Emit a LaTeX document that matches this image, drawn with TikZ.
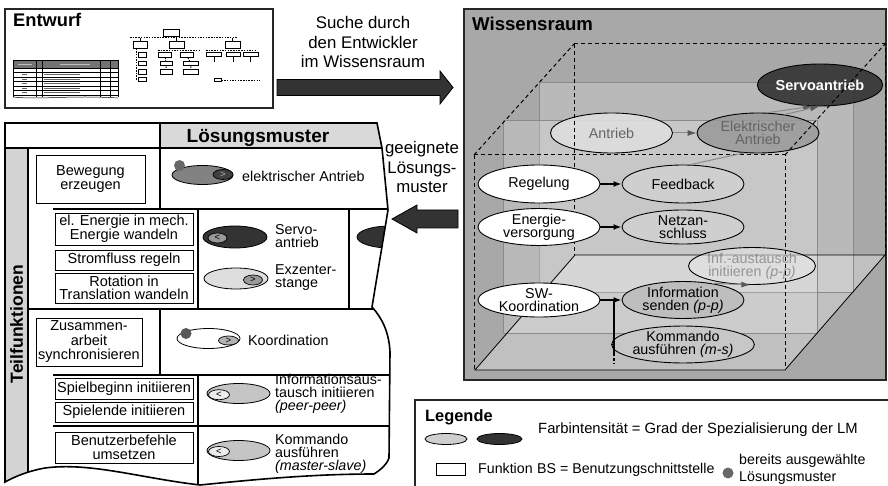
\documentclass[tikz,border=0pt]{standalone}
\usepackage{fontspec}
\setmainfont{Liberation Sans}
\usetikzlibrary{shapes.geometric,arrows.meta}

\definecolor{roomgray}{HTML}{A8A8A8}
\definecolor{floorgray}{HTML}{C0C0C0}
\definecolor{edgegray}{HTML}{8A8A8A}
\definecolor{darkfill}{HTML}{333333}
\definecolor{midfill}{HTML}{999999}
\definecolor{lightfill}{HTML}{DEDEDE}
\definecolor{softfill}{HTML}{CFCFCF}
\definecolor{headgray}{HTML}{D9D9D9}
\definecolor{stripgray}{HTML}{D3D3D3}
\definecolor{dotgray}{HTML}{686868}
\definecolor{textgray}{HTML}{585858}

\newcommand\fell{\fontsize{14.3}{12.8}\selectfont\lineskiplimit=-20pt}
\newcommand\ftab{\fontsize{14.5}{13.5}\selectfont\lineskiplimit=-20pt}
\newcommand\fsol{\fontsize{14.3}{13}\selectfont\lineskiplimit=-20pt}
\newcommand\fcap{\fontsize{16.8}{19.5}\selectfont}
\newcommand\fleg{\fontsize{14.2}{16.5}\selectfont\lineskiplimit=-20pt}
\newcommand\flegwide{\fontsize{14.8}{16.5}\selectfont}
\newcommand\fmini{\fontsize{9.5}{9.5}\selectfont}

% outline of the solution table with its torn right and bottom edges
\newcommand\tableoutline{(5,123) -- (377,123) -- (382,148) -- (388,210) -- (372,307)
  .. controls (382,318) and (389,332) .. (390,352) -- (389,458)
  .. controls (386,466) and (380,470) .. (374,474)
  .. controls (310,474) and (250,480) .. (200,485)
  .. controls (140,478) and (90,462) .. (45,468)
  .. controls (28,471) and (14,477) .. (5,482) -- cycle}

\tikzset{
  ell/.style={ellipse, draw=black, line width=0.9pt, minimum width=122pt,
    minimum height=38pt, inner sep=0pt, align=center, font=\fell},
  backell/.style={ell, minimum height=40pt},
  blackarrow/.style={line width=1.6pt, -{Latex[length=8pt,width=6pt]}},
  grayarrow/.style={draw=edgegray, line width=1pt, -{Latex[length=9pt,width=6pt,color=textgray]}},
  grayline/.style={draw=edgegray, line width=1pt},
  dashedge/.style={dash pattern=on 4pt off 3pt, line width=1pt},
  tline/.style={line width=1.6pt},
  funcbox/.style={draw, line width=0.8pt, fill=white, align=center, font=\ftab, inner sep=0pt},
  solell/.style={ellipse, draw, line width=0.8pt, inner sep=0pt, minimum width=64pt, minimum height=21pt},
  mini/.style={ellipse, draw, line width=0.7pt, inner sep=0pt, minimum width=19pt,
    minimum height=10pt, font=\fmini},
  soltext/.style={anchor=west, align=left, font=\fsol, inner sep=0pt},
  pickdot/.style={circle, fill=dotgray, inner sep=0pt, minimum size=11pt},
  mbox/.style={draw, line width=0.9pt, fill=white, inner sep=0pt, minimum width=#1, minimum height=4.5pt},
  mbox/.default=12pt,
  mdash/.style={dash pattern=on 1.5pt off 1.2pt, line width=1pt},
  panel/.style={line width=1.6pt, draw=black!85}
}

\begin{document}
\begin{tikzpicture}[x=1pt,y=-1pt]
\useasboundingbox (0,0) rectangle (888,486);
\clip (0,0) rectangle (888,486);

% ================= Entwurf =================
\draw[panel, fill=white] (5,9) rectangle (273,108);
\node[anchor=base west, font=\fontsize{18.3}{20}\selectfont\bfseries, inner sep=0pt] (entwurf) at (13,26.7) {Entwurf};

% miniature requirement table
\fill[black!55] (13,60) rectangle (118,68);
\draw[line width=.5pt] (13,60) rectangle (118,68);
\draw[line width=.5pt] (13,68) -- (13,97) (118,68) -- (118,97);
\foreach \yy in {72.5,77,81.5,86,90.5,95}{\draw[line width=.5pt] (13,\yy) -- (118,\yy);}
\foreach \xx in {36,42,100,110}{\draw[line width=.4pt] (\xx,60) -- (\xx,97);}
\foreach \yy in {72.5,77,81.5,86,90.5}{\draw[black!60, line width=.7pt] (44,\yy+2.3) -- (80,\yy+2.3);}
\foreach \yy in {77,81.5,86,90.5,95}{\draw[black!60, line width=.6pt] (22,\yy-2.2) -- (27,\yy-2.2);}
\draw[black!25, line width=.6pt] (60,64) -- (90,64) (18,64) -- (32,64);
\draw[line width=.5pt] (13,97) .. controls (40,100) and (70,95) .. (118,98);

% miniature function tree
\node[mbox=16pt, minimum height=7pt] (m0) at (171,32.5) {};
\coordinate (busL) at (130,38);
\coordinate (busR) at (238,38);
\coordinate (bus0) at (171,38);
\draw[line width=.8pt] (m0) -- (bus0);
\draw[mdash] (busL) -- (busR);
\node[mbox=14pt, minimum height=6.5pt] (m1) at (140,45) {};
\node[mbox=15pt, minimum height=6.5pt] (m2) at (176.5,45) {};
\node[mbox=15pt, minimum height=6.5pt] (m3) at (232.5,45) {};
\draw[line width=.8pt] (m1.north) -- (m1.north |- bus0);
\draw[line width=.8pt] (m2.north) -- (m2.north |- bus0);
\draw[line width=.8pt] (m3.north) -- (m3.north |- bus0);
% branch A
\coordinate (a0) at (136.5,48.5);
\coordinate (a9) at (136.5,80);
\draw[mdash] (a0) -- (a9);
\foreach \yy/\nm in {55/a1,63.7/a2,72/a3,79.3/a4}{\node[mbox=8.5pt] (\nm) at (142.5,\yy) {};}
% branch B
\coordinate (bL) at (158,50.7);
\coordinate (bR) at (200,50.7);
\draw[mdash] (bL) -- (bR);
\node[mbox=13.5pt] (b1) at (165,55) {};
\node[mbox=13.5pt] (b2) at (186.7,55) {};
\node[mbox=12pt] (b3) at (166,63.7) {};
\node[mbox=12pt] (b4) at (166,72) {};
\node[mbox=15pt] (b5) at (190.8,63.7) {};
\node[mbox=15pt] (b6) at (190.8,72) {};
\draw[mdash] (b1) -- (b3) -- (b4);
\draw[mdash] (b2) -- (b5) -- (b6);
% branch C
\coordinate (cL) at (206,50.7);
\coordinate (cR) at (257,50.7);
\draw[mdash] (cL) -- (cR);
\node[mbox=15.5pt] (c1) at (214,54.5) {};
\node[mbox=13.5pt] (c2) at (233.3,54.5) {};
\node[mbox=15.3pt] (c3) at (250.7,54.5) {};
\foreach \nm in {c1,c2,c3}{\coordinate (\nm e) at ([yshift=-5pt]\nm.south); \draw[line width=.8pt] (\nm.south) -- (\nm e);}
% tiny legend
\node[mbox=7pt, minimum height=2.7pt] (mleg) at (217.5,80.3) {};
\coordinate (mlegE) at (260,80.3);
\draw[mdash, line width=.6pt] (mleg.east) -- (mlegE);

% ================= search arrow =================
\node[font=\fcap, align=center, inner sep=0pt] (suche) at (363,42.4) {Suche durch\\den Entwickler\\im Wissensraum};
\draw[line width=0.8pt, fill=darkfill] (277,79.5) -- (440,79.5) -- (440,71) -- (453,87.5)
  -- (440,104) -- (440,95.5) -- (277,95.5) -- cycle;

% ================= Wissensraum =================
\draw[panel, fill=roomgray] (464,9) rectangle (886,380);
\node[anchor=base west, font=\fontsize{18.6}{20}\selectfont\bfseries, inner sep=0pt] (wissen) at (472,30.7) {Wissensraum};

% floor and nested layers
\fill[floorgray] (475,370) -- (785,370) -- (885,255) -- (575,255) -- cycle;
\fill[white, opacity=.2] (539,82) rectangle (853,292);
\draw[edgegray, line width=.6pt] (539,82) rectangle (853,292);
\fill[white, opacity=.2] (503,120) rectangle (817,333);
\draw[edgegray, line width=.6pt] (503,120) rectangle (817,333);
\draw[line width=.8pt] (475,370) -- (785,370) -- (885,255) -- (575,255) -- cycle;

% rear patterns
\node[backell, fill=darkfill, fill opacity=.9, text opacity=1, text=white,
  font=\fontsize{14.5}{13}\selectfont\bfseries, minimum height=42pt] (servo) at (820,85) {Servoantrieb};
\node[backell, fill=midfill, fill opacity=.85, text=textgray] (elek) at (758,133) {Elektrischer\\Antrieb};
\node[backell, fill=lightfill, fill opacity=.9, text=textgray] (antrieb) at (611.5,133) {Antrieb};
\node[backell, fill=white!90!black, fill opacity=.55, text=textgray, minimum height=31pt] (infa) at (752,266)
  {Inf.-austausch\\initiieren \textit{(p-p)}};

\draw[grayarrow] (antrieb) -- (elek);

% dashed space boundaries
\draw[dashedge] (474,155) -- (785,155) -- (785,370);
\draw[dashedge] (474,155) -- (474,370);
\draw[dashedge] (574,44) -- (885,44) -- (885,255);
\draw[dashedge] (574,44) -- (574,255);
\draw[dashedge] (474,155) -- (574,44);
\draw[dashedge] (785,155) -- (885,44);

% front patterns
\node[ell, fill=white] (regel) at (539,184) {Regelung};
\node[ell, fill=softfill] (feed) at (683,184) {Feedback};
\node[ell, fill=white, minimum height=34pt] (energie) at (539,227) {Energie-\\versorgung};
\node[ell, fill=softfill, minimum height=34pt] (netz) at (683,227) {Netzan-\\schluss};
\node[ell, fill=white, minimum height=34pt] (sw) at (539,300) {SW-\\Koordination};
\node[ell, fill=softfill!92!black, minimum height=35pt] (info) at (683,300) {Information\\senden \textit{(p-p)}};
\node[ell, fill=softfill!96!black, minimum height=33pt] (komm) at (683,344.5) {Kommando\\ausführen \textit{(m-s)}};

\draw[grayline] (feed.70) -- (elek.235);
\draw[grayarrow] (elek.66) -- (servo.250);
\draw[grayarrow] (elek.35) -- (servo.268);
\draw[grayarrow] (info.30) -- (infa.265);
\draw[blackarrow] (regel) -- (feed);
\draw[blackarrow] (energie) -- (netz);
\draw[blackarrow] (sw) -- (info);
\coordinate (jtop) at (614,300);
\coordinate (jmid) at (614,344.5);
\coordinate (jbot) at (614,353);
\coordinate (jend) at (614,364);
\draw[line width=1.6pt] (jtop) -- (jbot);
\draw[line width=1.6pt, dash pattern=on 3pt off 2pt] (jbot) -- (jend);
\draw[line width=1.6pt] (jmid) -- (komm.west);

% ================= return arrow =================
\node[font=\fcap, align=center, inner sep=0pt] (geeignet) at (422,167) {geeignete\\Lösungs-\\muster};
\draw[line width=0.8pt, fill=darkfill] (458,210) -- (417,210) -- (417,205) -- (392,219)
  -- (417,233) -- (417,228) -- (458,228) -- cycle;

% ================= Lösungsmuster table =================
\fill[white] \tableoutline;
\begin{scope}
  \clip \tableoutline;
  \fill[stripgray] (5,148) rectangle (28,490);
  \fill[headgray] (160,123) rectangle (400,148);
  \draw[tline] (160,123) -- (160,209);
  \draw[tline] (5,148) -- (400,148);
  \draw[tline] (28,148) -- (28,490);
  \draw[tline] (53,209) -- (400,209);
  \draw[tline] (198,209) -- (198,309);
  \draw[tline] (349,209) -- (349,309);
  \draw[tline] (28,309) -- (400,309);
  \draw[tline] (160,309) -- (160,375);
  \draw[tline] (53,375) -- (400,375);
  \draw[tline] (198,375) -- (198,490);
  \draw[tline] (53,426) -- (400,426);
  \node[solell, fill=darkfill, minimum width=66pt, minimum height=22pt] (sP) at (390,237) {};
\end{scope}
\draw[tline] \tableoutline;

\node[anchor=base, font=\fontsize{19}{20}\selectfont\bfseries, inner sep=0pt] (loesung) at (258,142.3) {Lösungsmuster};
\node[rotate=90, font=\fontsize{17.5}{19}\selectfont\bfseries, inner sep=0pt] (teil) at (16.5,324) {Teilfunktionen};

% sub-functions
\node[funcbox, minimum width=109pt, minimum height=48pt] (f1) at (90.5,179) {Bewegung\\erzeugen};
\node[funcbox, minimum width=138pt, minimum height=32pt] (f2) at (124,229) {el. Energie in mech.\\Energie wandeln};
\node[funcbox, minimum width=138pt, minimum height=20pt] (f3) at (124,260) {Stromfluss regeln};
\node[funcbox, minimum width=138pt, minimum height=30pt] (f4) at (124,288) {Rotation in\\Translation wandeln};
\node[funcbox, minimum width=106pt, minimum height=48pt, font=\fontsize{14.5}{14.5}\selectfont] (f5) at (89,342) {Zusammen-\\arbeit\\synchronisieren};
\node[funcbox, minimum width=138pt, minimum height=21pt] (f6) at (124,388.5) {Spielbeginn initiieren};
\node[funcbox, minimum width=138pt, minimum height=20pt] (f7) at (124,412) {Spielende initiieren};
\node[funcbox, minimum width=138pt, minimum height=31pt] (f8) at (124,447.5) {Benutzerbefehle\\umsetzen};

% solution patterns
\node[solell, fill=midfill!85!black, minimum width=61pt, minimum height=19pt] (sE) at (202.5,175) {};
\node[mini, fill=black!75, text=black!30, minimum width=20pt] (sEm) at (223,174.5) {>};
\node[pickdot] (sEd) at (179.5,165.5) {};
\node[soltext] (tE) at (242,176) {elektrischer Antrieb};

\node[solell, fill=darkfill, minimum height=22pt] (sS) at (235,237) {};
\node[mini, fill=midfill] (sSm) at (217.5,238) {<};
\node[soltext] (tS) at (275,236) {Servo-\\antrieb};

\node[solell, fill=lightfill] (sX) at (236,278.5) {};
\node[mini, fill=midfill] (sXm) at (253,280) {>};
\node[soltext] (tX) at (275,278) {Exzenter-\\stange};

\node[solell, fill=white, minimum width=63pt, minimum height=20pt] (sK) at (208.5,338.5) {};
\node[mini, fill=black!30, minimum width=20pt, minimum height=9pt] (sKm) at (228.5,340.5) {>};
\node[pickdot, fill=black!65] (sKd) at (186,333.5) {};
\node[soltext] (tK) at (248,340) {Koordination};

\node[solell, fill=softfill!95!black, minimum width=63pt, minimum height=20pt] (sI) at (238.5,393.5) {};
\node[mini, fill=black!7, minimum width=21pt] (sIm) at (219,394.7) {<};
\node[soltext] (tI) at (275,394) {Informationsaus-\\tausch initiieren\\\textit{(peer-peer)}};

\node[solell, fill=softfill!95!black, minimum width=63pt, minimum height=20pt] (sC) at (238.5,450.5) {};
\node[mini, fill=black!7, minimum width=21pt] (sCm) at (219,451.5) {<};
\node[soltext] (tC) at (275,454) {Kommando\\ausführen\\\textit{(master-slave)}};

% ================= Legende =================
\draw[panel, fill=white] (415,400) rectangle (895,495);
\node[anchor=base west, font=\fontsize{16.4}{18}\selectfont\bfseries, inner sep=0pt] (leg) at (425,421.5) {Legende};
\node[solell, fill=softfill, minimum width=42pt, minimum height=11pt] (legL) at (446,439) {};
\node[solell, fill=darkfill, minimum width=45pt, minimum height=11pt] (legD) at (499.5,439) {};
\node[anchor=base west, font=\flegwide, inner sep=0pt] (legT1) at (538,433) {Farbintensität = Grad der Spezialisierung der LM};
\node[draw, line width=0.8pt, fill=white, inner sep=0pt, minimum width=29pt, minimum height=12pt] (legF) at (450.5,469) {};
\node[anchor=base west, font=\fleg, inner sep=0pt] (legT2) at (478,473.5) {Funktion};
\node[anchor=base west, font=\fleg, inner sep=0pt] (legT3) at (537,473.5) {BS = Benutzungschnittstelle};
\node[pickdot] (legDot) at (728,473) {};
\node[anchor=west, align=left, font=\fleg, inner sep=0pt] (legT4) at (739,469.5) {bereits ausgewählte\\Lösungsmuster};

\end{tikzpicture}
\end{document}
